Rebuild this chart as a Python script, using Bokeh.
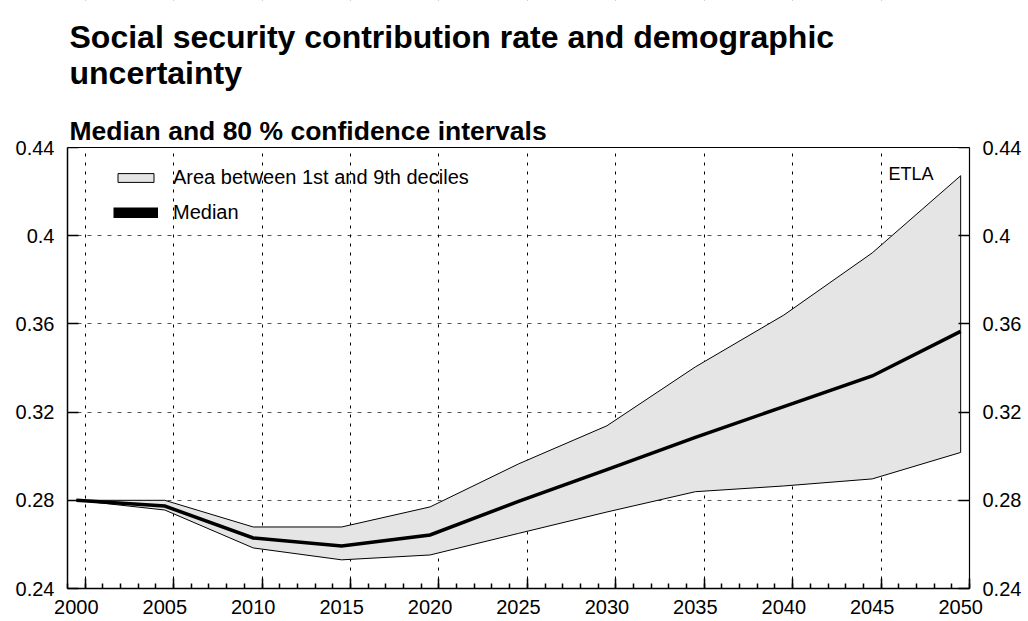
from bokeh.plotting import figure
from bokeh.models import (Range1d, LinearAxis, FixedTicker, Grid, Label,
                          Legend, LegendItem, BoxAnnotation, Span,
                          CustomLabelingPolicy)
from bokeh.embed import file_html
from bokeh.resources import INLINE

# ---- data -------------------------------------------------------------
years = [2000, 2005, 2010, 2015, 2020, 2025, 2030, 2035, 2040, 2045, 2050]
median = [0.2800, 0.2774, 0.2629, 0.2593, 0.2643, 0.2795, 0.2939, 0.3085,
          0.3225, 0.3364, 0.3566]
decile_9 = [0.2800, 0.2800, 0.2679, 0.2679, 0.2770, 0.2965, 0.3138, 0.3405,
            0.3640, 0.3922, 0.4272]
decile_1 = [0.2800, 0.2756, 0.2584, 0.2530, 0.2552, 0.2650, 0.2747, 0.2839,
            0.2865, 0.2897, 0.3017]

y_ticks = [0.24, 0.28, 0.32, 0.36, 0.40, 0.44]
y_tick_labels = ["0.24", "0.28", "0.32", "0.36", "0.4", "0.44"]
x_tick_labels = [str(y) for y in years]

title_lines = ["Social security contribution rate and demographic",
               "uncertainty"]
subtitle = "Median and 80 % confidence intervals"
source_note = "ETLA"
band_label = "Area between 1st and 9th deciles"
median_label = "Median"

# ---- page geometry -------------------------------------------------------
FONT = "Liberation Sans"
W, H = 1028, 621
BORDER_L, BORDER_R, BORDER_B = 67, 59, 33
FRAME_H = H - BORDER_B          # frame reaches the top of the page
HEADER_PX = 147                 # room for the headings above the chart area
CHART_PX = FRAME_H - HEADER_PX  # height of the value area 0.24 .. 0.44
HALF = 0.5                      # period boundaries sit half a year after the label years
BAND_FILL = "#e5e5e5"

y_lo, y_hi = y_ticks[0], y_ticks[-1]
y_top = y_hi + (y_hi - y_lo) * HEADER_PX / CHART_PX

def from_top(px):
    """screen y (measured up from the frame bottom) for a distance from the page top"""
    return FRAME_H - px

p = figure(width=W, height=H, output_backend="svg", toolbar_location=None,
           x_range=Range1d(years[0] - HALF, years[-1] + HALF),
           y_range=Range1d(y_lo, y_top),
           x_axis_location=None,
           min_border_left=BORDER_L, min_border_right=BORDER_R,
           min_border_top=0, min_border_bottom=BORDER_B)
p.background_fill_color = "white"
p.border_fill_color = "white"
p.outline_line_color = None
p.xgrid.visible = False

# ---- y axes -----------------------------------------------------------
overrides = {t: s for t, s in zip(y_ticks, y_tick_labels)}

def style_y(ax, width):
    ax.ticker = FixedTicker(ticks=y_ticks)
    ax.bounds = (y_lo, y_hi)
    ax.major_label_overrides = overrides
    ax.major_tick_in = 11
    ax.major_tick_out = 0
    ax.minor_tick_in = 0
    ax.minor_tick_out = 0
    ax.major_tick_line_width = 1.5
    ax.axis_line_width = width
    ax.axis_line_color = "black"
    ax.major_tick_line_color = "black"
    ax.major_label_standoff = 13
    ax.major_label_text_font = FONT
    ax.major_label_text_font_size = "20px"
    ax.major_label_text_color = "black"

style_y(p.yaxis[0], 1.5)
right_axis = LinearAxis()
style_y(right_axis, 1.2)
p.add_layout(right_axis, "right")

p.ygrid.grid_line_color = "#555555"
p.ygrid.grid_line_dash = "4 6"
p.ygrid.grid_line_width = 1

# ---- x axes: tick marks on period boundaries, labels on the years ------
boundary_major = [y + HALF for y in years]
boundary_minor = [y + HALF for y in range(years[0] - 1, years[-1] + 1)]

tick_axis = LinearAxis(ticker=FixedTicker(ticks=boundary_major,
                                          minor_ticks=boundary_minor))
tick_axis.major_tick_in = 10
tick_axis.major_tick_out = 0
tick_axis.minor_tick_in = 5
tick_axis.minor_tick_out = 0
tick_axis.major_tick_line_width = 1.5
tick_axis.minor_tick_line_width = 1.5
tick_axis.axis_line_width = 1.5
tick_axis.axis_line_color = "black"
tick_axis.major_label_text_font_size = "0px"
tick_axis.major_label_standoff = 0
tick_axis.major_label_policy = CustomLabelingPolicy(
    code="for (const i of indices) indices.unset(i)")
p.add_layout(tick_axis, "below")

label_axis = LinearAxis(ticker=FixedTicker(ticks=years),
                        major_label_overrides={y: s for y, s in zip(years, x_tick_labels)})
label_axis.axis_line_color = None
label_axis.major_tick_line_color = None
label_axis.minor_tick_line_color = None
label_axis.major_tick_in = 0
label_axis.major_tick_out = 0
label_axis.major_label_standoff = 11
label_axis.major_label_text_font = FONT
label_axis.major_label_text_font_size = "20px"
label_axis.major_label_text_color = "black"
p.add_layout(label_axis, "below")

vgrid = Grid(dimension=0, ticker=FixedTicker(ticks=boundary_major),
             grid_line_color="black", grid_line_dash="3 6", grid_line_width=1)
p.add_layout(vgrid)

# ---- band, median ----------------------------------------------------
band_x = years + years[::-1]
band_y = decile_9 + decile_1[::-1]
band = p.patch(x=band_x, y=band_y, fill_color=BAND_FILL,
               line_color="black", line_width=1)
p.line(x=years, y=median, line_color="black", line_width=3.5,
       line_join="miter")

# legend key for the median: a broad bar (zero-length path, never visible)
median_key = p.line(x=[years[0], years[0]], y=[median[0], median[0]],
                    line_color="black", line_width=11, line_cap="butt")

# heading area above the chart: blank out grid lines, close the box on top
p.add_layout(BoxAnnotation(bottom=y_hi, fill_color="white", fill_alpha=1,
                           line_alpha=0))
p.add_layout(Span(location=y_hi, dimension="width", line_color="black",
                  line_width=1))

legend = Legend(items=[LegendItem(label=band_label, renderers=[band]),
                       LegendItem(label=median_label, renderers=[median_key])],
                location=(46, from_top(224)),
                glyph_width=45, glyph_height=11, label_standoff=15,
                label_height=20, spacing=12, padding=0, margin=0,
                label_text_font=FONT, label_text_font_size="20px",
                label_text_color="black",
                background_fill_alpha=0, border_line_alpha=0)
p.add_layout(legend)

# ---- texts -------------------------------------------------------------
for text, base in zip(title_lines, [36, 72]):
    p.add_layout(Label(x=2, y=from_top(base), x_units="screen", y_units="screen",
                       text=text, text_font=FONT, text_font_style="bold",
                       text_font_size="32px", text_color="black",
                       text_baseline="alphabetic"))

p.add_layout(Label(x=2, y=from_top(130), x_units="screen", y_units="screen",
                   text=subtitle, text_font=FONT, text_font_style="bold",
                   text_font_size="26.5px", text_color="black",
                   text_baseline="alphabetic"))

p.add_layout(Label(x=821, y=from_top(173), x_units="screen", y_units="screen",
                   text=source_note, text_font=FONT, text_font_size="18px",
                   text_color="black", text_baseline="alphabetic"))

open("out.html", "w").write(file_html(p, INLINE))
